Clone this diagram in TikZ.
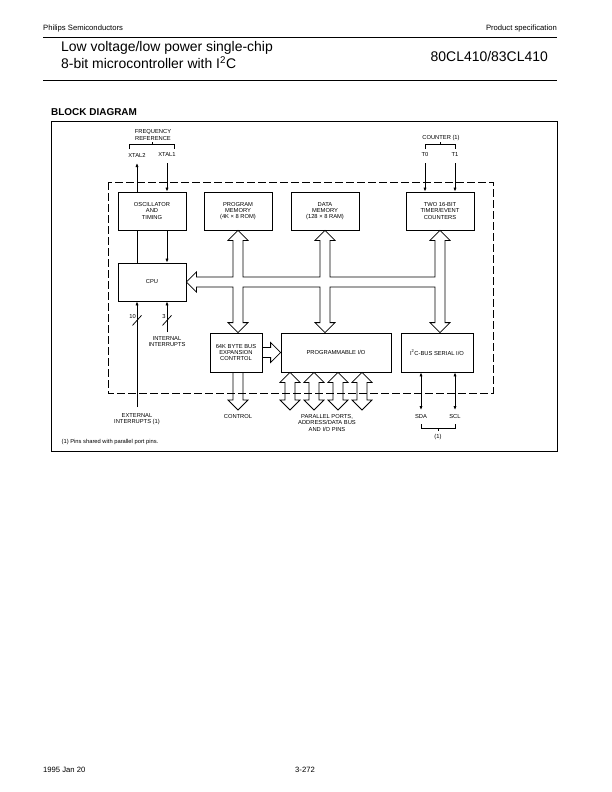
\documentclass[tikz,border=0pt]{standalone}
\usepackage{fontspec}
\setmainfont{Liberation Sans}
\usepackage{tikz}
\usetikzlibrary{arrows.meta,positioning,calc}
% hollow bus arrow with a head at each end (#1 top tip, #2 bottom tip)
\newcommand{\dbus}[2]{%
    \draw[bus] (#1) -- ++(10,10) -- ++(-5,0) -- ($(#2)+(5,-10)$) -- ++(5,0)
        -- (#2) -- ++(-10,-10) -- ++(5,0) -- ($(#1)+(-5,10)$) -- ++(-5,0) -- cycle;}

\begin{document}
\begin{tikzpicture}[
        x=1bp, y=-1bp,
        >={Latex[length=4bp,width=3.2bp]},
        font=\fontsize{5.8}{6.2}\selectfont,
        blk/.style={
            draw,
            line width=0.8bp,
            align=center,
            inner sep=1bp,
            minimum height=38bp
        },
        lbl/.style={align=center, inner sep=0.5bp},
        sig/.style={->, line width=0.75bp},
        sigboth/.style={<->, line width=0.75bp},
        plain/.style={line width=0.75bp},
        bus/.style={line width=0.8bp},
        dashframe/.style={dash pattern=on 8bp off 3bp, line width=0.8bp},
        rule/.style={line width=0.8bp},
        pagetext/.style={inner sep=0pt, font=\fontsize{7.7}{9}\selectfont},
        titletext/.style={inner sep=0pt, font=\fontsize{14}{16.5}\selectfont}
    ]
    \path[use as bounding box, fill=white] (0,0) rectangle (612,792);

    \node[pagetext, anchor=base west] (maker) at (43,30.8) {Philips Semiconductors};
    \node[pagetext, anchor=base east] (kind) at (557,30.8) {Product specification};
    \draw[rule] (43,37) -- (557,37);
    \node[titletext, anchor=base west] (titlea) at (61,52) {Low voltage/low power single-chip};
    \node[titletext, anchor=base west] (titleb) at (61,69) {8-bit microcontroller with I\textsuperscript{2}C};
    \node[titletext, anchor=base east] (part) at (548,62) {80CL410/83CL410};
    \draw[rule] (43,80) -- (557,80);
    \node[anchor=base west, inner sep=0pt, font=\bfseries\fontsize{10}{12}\selectfont] (bdtitle) at (51,115.6) {BLOCK DIAGRAM};

    \draw[line width=0.9bp] (51,121) rectangle (557,451);
    \draw[dashframe] (108,182) rectangle (493,393);

    \node[blk, minimum width=68bp] (osc) at (152,211) {OSCILLATOR\\AND\\TIMING};
    \node[blk, minimum width=68bp] (prog) at (238,211) {PROGRAM\\MEMORY\\(4K × 8 ROM)};
    \node[blk, minimum width=68bp] (data) at (325,211) {DATA\\MEMORY\\(128 × 8 RAM)};
    \node[blk, minimum width=68bp] (timer) at (440,211) {TWO 16-BIT\\TIMER/EVENT\\COUNTERS};
    \node[blk, minimum width=68bp] (cpu) at (152,282) {CPU};
    \node[blk, minimum width=52bp, minimum height=39bp] (bex) at (236,352.5) {64K BYTE BUS\\EXPANSION\\CONTRTOL};
    \node[blk, minimum width=110bp, minimum height=39bp] (pio) at (336,352.5) {PROGRAMMABLE I/O};
    \node[blk, minimum width=72bp, minimum height=39bp] (i2c) at (437,352.5) {I\textsuperscript{2}C-BUS SERIAL I/O};

    \node[lbl] (freq) at (153,135) {FREQUENCY\\REFERENCE};
    \node[lbl] (xtaltwo) at (137,155) {XTAL2};
    \node[lbl] (xtalone) at (167,155) {XTAL1};
    \node[lbl] (counter) at (441,138) {COUNTER (1)};
    \node[lbl] (tzero) at (425,155) {T0};
    \node[lbl] (tone) at (455,155) {T1};
    \node[lbl] (nten) at (132.5,317) {10};
    \node[lbl] (nthree) at (164,317) {3};
    \node[lbl] (intint) at (167,341.5) {INTERNAL\\INTERRUPTS};
    \node[lbl] (extint) at (137,419) {EXTERNAL\\INTERRUPTS (1)};
    \node[lbl] (ctrl) at (238,417) {CONTROL};
    \node[lbl] (ports) at (327,423) {PARALLEL PORTS,\\ADDRESS/DATA BUS\\AND I/O PINS};
    \node[lbl] (sda) at (421,417) {SDA};
    \node[lbl] (scl) at (455,417) {SCL};
    \node[lbl] (pinone) at (438,437) {(1)};
    \node[lbl, anchor=west] (note) at (61,442) {(1) Pins shared with parallel port pins.};

    \coordinate (xt2) at (137,163);
    \coordinate (xt1) at (167,163);
    \coordinate (t0) at (425,163);
    \coordinate (t1) at (455,163);
    \coordinate (extend) at (137,407);
    \coordinate (intend) at (167,332);
    \coordinate (sdaend) at (421,410);
    \coordinate (sclend) at (455,410);
    \coordinate (ctrltip) at (238,410);
    \coordinate (portend) at (0,410);

    \draw[sig] (xt2 |- osc.north) -- (xt2);
    \draw[sig] (xt1) -- (xt1 |- osc.north);
    \draw[sig] (t0) -- (t0 |- timer.north);
    \draw[sig] (t1) -- (t1 |- timer.north);
    \draw[plain] (xt2 |- osc.south) -- (xt2 |- cpu.north);
    \draw[sig] (xt1 |- osc.south) -- (xt1 |- cpu.north);
    \draw[sig] (extend) -- (extend |- cpu.south);
    \draw[sig] (intend) -- (intend |- cpu.south);
    \draw[plain] ($(extend |- cpu.south)+(-4.5,24)$) -- ++(9,-10);
    \draw[plain] ($(intend |- cpu.south)+(-4.5,24)$) -- ++(9,-10);
    \draw[sigboth] (sdaend |- i2c.south) -- (sdaend);
    \draw[sigboth] (sclend |- i2c.south) -- (sclend);

    \draw[plain] (129,149) |- (174,144.5) -- (174,149) (152,144.5) -- (152,141.5);
    \draw[plain] (425,149) |- (455,144.5) -- (455,149) (440,144.5) -- (440,141.5);
    \draw[plain] (421,424) |- (455,428) -- (455,424) (438,428) -- (438,431);

    \draw[bus] (cpu.east) -- ++(10,-10) -- ++(0,5)
        -- ($(prog.south |- cpu.east)+(-5,-5)$) -- ($(prog.south)+(-5,10)$) -- ++(-5,0)
        -- (prog.south) -- ++(10,10) -- ++(-5,0)
        -- ($(prog.south |- cpu.east)+(5,-5)$) -- ($(data.south |- cpu.east)+(-5,-5)$)
        -- ($(data.south)+(-5,10)$) -- ++(-5,0) -- (data.south) -- ++(10,10) -- ++(-5,0)
        -- ($(data.south |- cpu.east)+(5,-5)$) -- ($(timer.south |- cpu.east)+(-5,-5)$)
        -- ($(timer.south)+(-5,10)$) -- ++(-5,0) -- (timer.south) -- ++(10,10) -- ++(-5,0)
        -- ($(timer.south |- i2c.north)+(5,-10)$) -- ++(5,0) -- (timer.south |- i2c.north)
        -- ++(-10,-10) -- ++(5,0)
        -- ($(timer.south |- cpu.east)+(-5,5)$) -- ($(data.south |- cpu.east)+(5,5)$)
        -- ($(data.south |- pio.north)+(5,-10)$) -- ++(5,0) -- (data.south |- pio.north)
        -- ++(-10,-10) -- ++(5,0)
        -- ($(data.south |- cpu.east)+(-5,5)$) -- ($(prog.south |- cpu.east)+(5,5)$)
        -- ($(prog.south |- bex.north)+(5,-10)$) -- ++(5,0) -- (prog.south |- bex.north)
        -- ++(-10,-10) -- ++(5,0)
        -- ($(prog.south |- cpu.east)+(-5,5)$) -- ($(cpu.east)+(10,5)$) -- ++(0,5) -- cycle;

    \draw[bus] ($(bex.east)+(0,-5)$) -- ($(pio.west |- bex.east)+(-10,-5)$) -- ++(0,-5)
        -- (pio.west |- bex.east) -- ++(-10,10) -- ++(0,-5) -- ($(bex.east)+(0,5)$);
    \draw[bus] ($(ctrltip |- bex.south)+(-5,0)$) -- ($(ctrltip)+(-5,-10)$) -- ++(-5,0)
        -- (ctrltip) -- ++(10,-10) -- ++(-5,0) -- ($(ctrltip |- bex.south)+(5,0)$);
    \foreach \dx in {-46,-22,2,26} {
        \path ([xshift=\dx bp]pio.south) coordinate (ptop) (ptop |- portend) coordinate (pbot);
        \dbus{ptop}{pbot}
    }

    \node[pagetext, anchor=base west] (date) at (43,772.8) {1995 Jan 20};
    \node[pagetext, anchor=base] (page) at (305,772.8) {3-272};
\end{tikzpicture}
\end{document}
